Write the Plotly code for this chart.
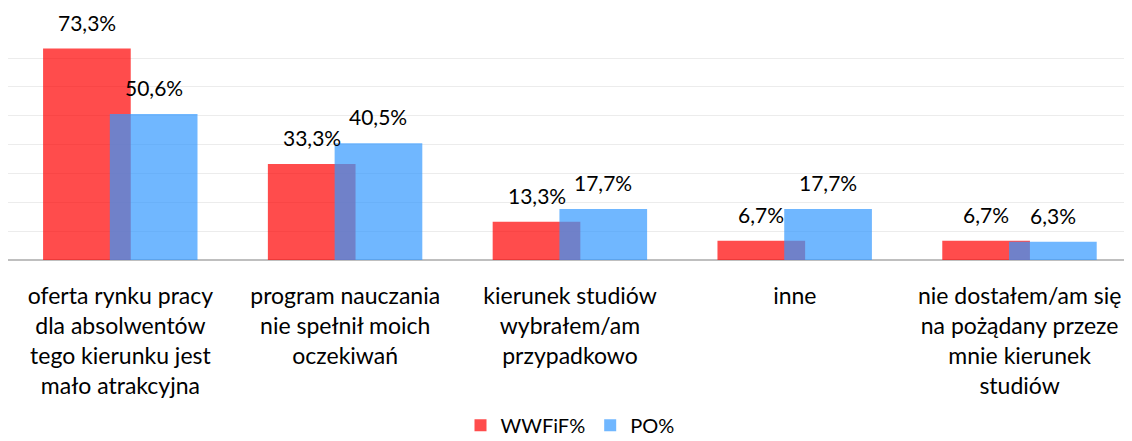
import plotly.graph_objects as go

categories = [
    "oferta rynku pracy<br>dla absolwentów<br>tego kierunku jest<br>mało atrakcyjna",
    "program nauczania<br>nie spełnił moich<br>oczekiwań",
    "kierunek studiów<br>wybrałem/am<br>przypadkowo",
    "inne",
    "nie dostałem/am się<br>na pożądany przeze<br>mnie kierunek<br>studiów",
]
wwfif = [73.3, 33.3, 13.3, 6.7, 6.7]
po = [50.6, 40.5, 17.7, 17.7, 6.3]
series_names = ["WWFiF%", "PO%"]

FONT = "Lato"
red = "rgba(255,0,0,0.7)"
blue = "rgba(51,153,255,0.7)"
width = 0.39
off_red = -0.344
off_blue = -0.047

xs = list(range(len(categories)))

fig = go.Figure()
fig.add_trace(go.Bar(x=xs, y=wwfif, name=series_names[0], width=width, offset=off_red,
                     marker=dict(color=red, line=dict(width=0))))
fig.add_trace(go.Bar(x=xs, y=po, name=series_names[1], width=width, offset=off_blue,
                     marker=dict(color=blue, line=dict(width=0))))

def fmt(v):
    return f"{v:.1f}".replace(".", ",") + "%"

for i in xs:
    fig.add_annotation(x=i + off_red + width / 2, y=wwfif[i], text=fmt(wwfif[i]),
                       showarrow=False, yanchor="bottom", yshift=12,
                       font=dict(family=FONT, size=21, color="#000"))
    fig.add_annotation(x=i + off_blue + width / 2, y=po[i], text=fmt(po[i]),
                       showarrow=False, yanchor="bottom", yshift=12,
                       font=dict(family=FONT, size=21, color="#000"))

fig.update_layout(
    width=1124, height=433,
    margin=dict(l=0, r=0, t=21, b=181, autoexpand=False),
    barmode="overlay",
    plot_bgcolor="white", paper_bgcolor="white",
    showlegend=True,
    legend=dict(orientation="h", x=0.5, xanchor="center", y=-0.715, yanchor="middle",
                font=dict(family=FONT, size=20, color="#000"), itemclick=False),
    font=dict(family=FONT, color="#000"),
)
fig.update_xaxes(range=[-0.5, 4.5], tickmode="array", tickvals=xs, ticktext=categories,
                 showgrid=False, showline=False, zeroline=False, ticks="", automargin=False,
                 tickfont=dict(family=FONT, size=23, color="#000"), ticklabelstandoff=20)
fig.update_yaxes(range=[0, 80.1], dtick=10, showticklabels=False, showgrid=True, automargin=False,
                 gridcolor="#ececec", gridwidth=1, zeroline=True, zerolinecolor="#bfbfbf",
                 zerolinewidth=2, showline=False)

fig.write_html("out.html")
